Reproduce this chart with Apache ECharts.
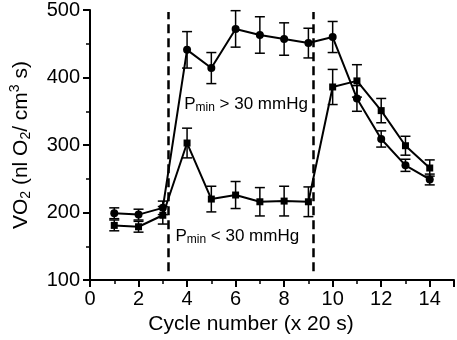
<!DOCTYPE html>
<html>
<head>
<meta charset="utf-8">
<script src="https://cdn.jsdelivr.net/npm/echarts@6/dist/echarts.min.js"></script>
<style>html,body{margin:0;padding:0;background:#fff}#c{width:457px;height:340px}</style>
</head>
<body>
<div id="c"></div>
<script>
const cycles = [1,2,3,4,5,6,7,8,9,10,11,12,13,14];
const highMean = [199,197,207,441,414,472,463,457,451,460,369,309,270,249];
const highErr  = [8,8,10,27,23,27,27,24,22,23,19,12,9,8];
const lowMean  = [181,179,196,303,220,226,216,217,216,386,395,351,299,266];
const lowErr   = [8,8,13,22,19,20,21,22,22,26,24,18,14,12];
const dashX = [3.22, 9.22];
const dashRange = [113, 497];
const labelHigh = {x: 6.43, y: 360};
const labelLow = {x: 6.07, y: 165};

const FONT = '"Liberation Sans", Arial, sans-serif';

function errData(mean, err){
  return cycles.map((c,i)=>[c, mean[i]-err[i], mean[i]+err[i]]);
}
function errRender(params, api){
  const x = api.value(0);
  const lo = api.coord([x, api.value(1)]);
  const hi = api.coord([x, api.value(2)]);
  const w = 5;
  const st = {stroke:'#000', lineWidth:1.5, fill:null};
  return {type:'group', children:[
    {type:'line', shape:{x1:lo[0],y1:lo[1],x2:hi[0],y2:hi[1]}, style:st},
    {type:'line', shape:{x1:lo[0]-w,y1:lo[1],x2:lo[0]+w,y2:lo[1]}, style:st},
    {type:'line', shape:{x1:hi[0]-w,y1:hi[1],x2:hi[0]+w,y2:hi[1]}, style:st}
  ]};
}

const chart = echarts.init(document.getElementById('c'));
const richLbl = {
  a:{fontFamily:FONT,fontSize:17,color:'#000'},
  s:{fontFamily:FONT,fontSize:12,color:'#000',padding:[6,0,0,0]}
};
chart.setOption({
  animation:false,
  grid:{left:87,right:3,top:10,bottom:58},
  xAxis:{
    type:'value', min:0, max:15, interval:2,
    name:'Cycle number (x 20 s)', nameLocation:'middle', nameGap:30,
    nameTextStyle:{fontFamily:FONT,fontSize:21,color:'#000',padding:[0,42,0,0]},
    axisLine:{show:true,onZero:false,lineStyle:{color:'#000',width:2}},
    axisTick:{show:true,inside:false,length:7,lineStyle:{color:'#000',width:2}},
    minorTick:{show:true,splitNumber:2,length:4,lineStyle:{color:'#000',width:1.5}},
    axisLabel:{fontFamily:FONT,fontSize:20,color:'#000',margin:9,
      formatter:v=> (v===15?'':String(v))},
    splitLine:{show:false}
  },
  yAxis:{
    type:'value', min:100, max:500, interval:100,
    name:'VO{s|2} (nl O{s|2}/ cm{p|3} s)', nameLocation:'middle', nameGap:56, nameRotate:90,
    nameTextStyle:{fontFamily:FONT,fontSize:21,color:'#000',
      rich:{
        s:{fontFamily:FONT,fontSize:14,color:'#000',padding:[10,0,0,0]},
        p:{fontFamily:FONT,fontSize:14,color:'#000',padding:[0,0,12,0]}
      }},
    axisLine:{show:true,lineStyle:{color:'#000',width:2}},
    axisTick:{show:true,inside:false,length:7,lineStyle:{color:'#000',width:2}},
    minorTick:{show:true,splitNumber:2,length:4,lineStyle:{color:'#000',width:1.5}},
    axisLabel:{fontFamily:FONT,fontSize:20,color:'#000',margin:10},
    splitLine:{show:false}
  },
  series:[
    {type:'custom', renderItem:errRender, data:errData(highMean,highErr), z:3},
    {type:'custom', renderItem:errRender, data:errData(lowMean,lowErr), z:3},
    {type:'line', data:cycles.map((c,i)=>[c,highMean[i]]), symbol:'circle', symbolSize:8,
      lineStyle:{color:'#000',width:2}, itemStyle:{color:'#000'}, z:4,
      markLine:{silent:true, symbol:'none', label:{show:false},
        lineStyle:{color:'#000',width:2.5,type:[9,5]},
        data: dashX.map(x=>[{coord:[x,dashRange[0]]},{coord:[x,dashRange[1]]}])},
      markPoint:{symbol:'circle',symbolSize:0,
        data:[
          {coord:[labelHigh.x,labelHigh.y], label:{show:true, formatter:'{a|P}{s|min}{a| > 30 mmHg}', rich:richLbl}},
          {coord:[labelLow.x,labelLow.y], label:{show:true, formatter:'{a|P}{s|min}{a| < 30 mmHg}', rich:richLbl}}
        ]}
    },
    {type:'line', data:cycles.map((c,i)=>[c,lowMean[i]]), symbol:'rect', symbolSize:7,
      lineStyle:{color:'#000',width:2}, itemStyle:{color:'#000'}, z:4}
  ]
});
</script>
</body>
</html>
